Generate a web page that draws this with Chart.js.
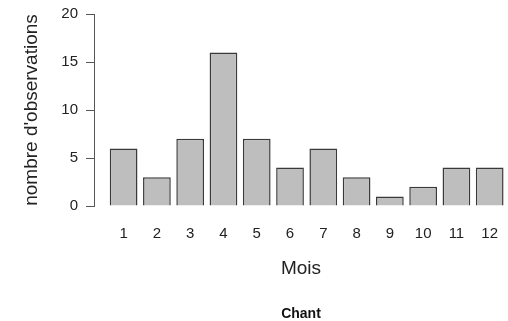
<!DOCTYPE html>
<html>
<head>
<meta charset="utf-8">
<script src="https://cdn.jsdelivr.net/npm/chart.js@4/dist/chart.umd.min.js"></script>
<style>
  html, body { margin: 0; padding: 0; background: #fff; }
  #wrap { width: 508px; height: 321px; }
</style>
</head>
<body>
<div id="wrap"><canvas id="barChart" width="508" height="321"></canvas></div>
<script>
var months = [1, 2, 3, 4, 5, 6, 7, 8, 9, 10, 11, 12];
var counts = [6, 3, 7, 16, 7, 4, 6, 3, 1, 2, 4, 4];
var yTicks = [0, 5, 10, 15, 20];

var ctx = document.getElementById('barChart').getContext('2d');
var chart = new Chart(ctx, {
    type: 'bar',
    data: {
        datasets: [{
            label: 'Chant',
            data: months.map(function (m, i) { return { x: m, y: counts[i] }; }),
            backgroundColor: '#bebebe',
            borderColor: '#3a3a3a',
            borderWidth: 1.5,
            barPercentage: 1 / 1.2,
            categoryPercentage: 1
        }]
    },
    options: {
        responsive: false,
        animation: false,
        devicePixelRatio: 1,
        layout: {
            padding: { left: 0, right: 0, top: 14, bottom: 0 }
        },
        scales: {
            x: {
                type: 'linear',
                offset: false,
                min: 0.11,
                max: 12.55,
                afterBuildTicks: function (scale) {
                    scale.ticks = months.map(function (v) { return { value: v }; });
                },
                afterFit: function (scale) {
                    scale.height = 101;
                    scale.paddingLeft = 0;
                    scale.paddingRight = 0;
                },
                grid: { display: false, drawTicks: false },
                border: { display: false },
                ticks: {
                    padding: 19,
                    autoSkip: false,
                    maxRotation: 0,
                    color: '#222',
                    font: { family: 'Liberation Sans', size: 15 },
                    callback: function (value) { return String(value); }
                },
                title: {
                    display: true,
                    text: 'Mois',
                    color: '#222',
                    font: { family: 'Liberation Sans', size: 19 },
                    padding: { top: 0, bottom: 27 }
                }
            },
            y: {
                min: 0,
                max: 20,
                afterBuildTicks: function (scale) {
                    scale.ticks = yTicks.map(function (v) { return { value: v }; });
                },
                afterFit: function (scale) {
                    scale.width = 94;
                    scale.paddingTop = 0;
                    scale.paddingBottom = 0;
                },
                grid: {
                    drawOnChartArea: false,
                    drawTicks: true,
                    tickLength: 8,
                    color: '#555'
                },
                border: { display: true, color: '#555', width: 1 },
                ticks: {
                    padding: 8,
                    color: '#222',
                    font: { family: 'Liberation Sans', size: 15 }
                },
                title: {
                    display: true,
                    text: "nombre d'observations",
                    color: '#222',
                    font: { family: 'Liberation Sans', size: 19 },
                    padding: { top: 20, bottom: 0 }
                }
            }
        },
        plugins: {
            legend: { display: false },
            tooltip: { enabled: false },
            title: {
                display: true,
                position: 'bottom',
                fullSize: false,
                text: 'Chant',
                color: '#111',
                font: { family: 'Liberation Sans', size: 14, weight: 'bold', lineHeight: 1 },
                padding: { top: 0, bottom: 0 }
            }
        }
    }
});
</script>
</body>
</html>
